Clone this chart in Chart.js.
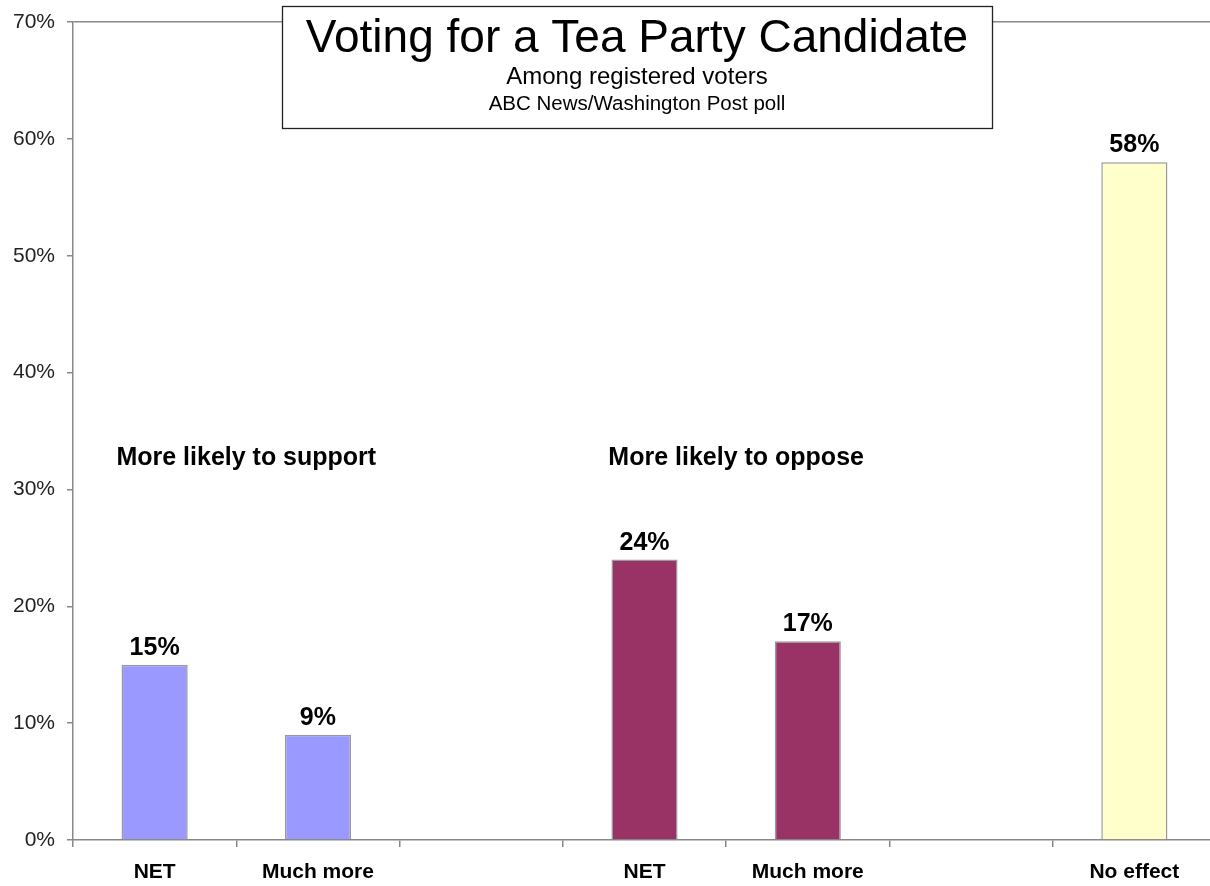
<!DOCTYPE html>
<html>
<head>
<meta charset="utf-8">
<script src="https://cdn.jsdelivr.net/npm/chart.js@4"></script>
<style>
html,body{margin:0;padding:0;background:#fff;overflow:hidden;}
#wrap{width:1222px;height:886px;}
</style>
</head>
<body>
<div id="wrap"><canvas id="c" width="1222" height="886"></canvas></div>
<script>
const categories = ["NET", "Much more", "", "NET", "Much more", "", "No effect"];
const values = [15, 9, null, 24, 17, null, 58];
const barColors = ["#9999FF", "#9999FF", "#9999FF", "#993366", "#993366", "#FFFFCC", "#FFFFCC"];
const yTicks = [0, 10, 20, 30, 40, 50, 60, 70];
const groupLabels = ["More likely to support", "More likely to oppose"];
const groupAnchors = [0.5, 3.5]; // between categories
const groupLevel = 32.7;
const titleText = "Voting for a Tea Party Candidate";
const subtitleLines = ["Among registered voters", "ABC News/Washington Post poll"];

const FONT = "'Liberation Sans', Arial, sans-serif";

const overlay = {
  id: 'overlay',
  afterDatasetsDraw(chart) {
    const ctx = chart.ctx;
    const x = chart.scales.x, y = chart.scales.y;
    ctx.save();
    // value labels
    ctx.fillStyle = '#000';
    ctx.font = 'bold 25px ' + FONT;
    ctx.textAlign = 'center';
    ctx.textBaseline = 'alphabetic';
    values.forEach((v, i) => {
      if (v == null) return;
      ctx.fillText(v + '%', x.getPixelForValue(i), y.getPixelForValue(v) - 10);
    });
    // group labels
    ctx.textBaseline = 'middle';
    groupLabels.forEach((g, i) => {
      const px = x.getPixelForValue(groupAnchors[i]) + 10;
      ctx.fillText(g, px, y.getPixelForValue(groupLevel));
    });
    // title box
    const bx = 282, by = 6, bw = 710, bh = 122;
    ctx.fillStyle = '#fff';
    ctx.fillRect(bx, by, bw, bh);
    ctx.strokeStyle = '#222';
    ctx.lineWidth = 1.3;
    ctx.strokeRect(bx + 0.5, by + 0.5, bw, bh);
    ctx.fillStyle = '#000';
    const cx = bx + bw / 2;
    ctx.font = '46px ' + FONT;
    ctx.fillText(titleText, cx, 39);
    ctx.font = '24px ' + FONT;
    ctx.fillText(subtitleLines[0], cx, 77);
    ctx.font = '20.5px ' + FONT;
    ctx.fillText(subtitleLines[1], cx, 104);
    ctx.restore();
  }
};

new Chart(document.getElementById('c'), {
  type: 'bar',
  data: {
    labels: categories,
    datasets: [{
      data: values,
      backgroundColor: barColors,
      borderColor: '#999999',
      borderWidth: 1.5,
      categoryPercentage: 1,
      barPercentage: 0.405
    }]
  },
  options: {
    responsive: false,
    animation: false,
    devicePixelRatio: 1,
    layout: { padding: { top: 22, right: 6, left: 0, bottom: 0 } },
    plugins: { legend: { display: false }, tooltip: { enabled: false }, title: { display: false } },
    scales: {
      x: {
        offset: true,
        afterFit(s) { s.height = 46; },
        grid: { offset: true, drawOnChartArea: false, tickLength: 7, color: '#888888', lineWidth: 1.5 },
        border: { color: '#888888', width: 1.5 },
        ticks: { color: '#000', font: { family: FONT, size: 21, weight: 'bold' }, padding: 13, maxRotation: 0, autoSkip: false }
      },
      y: {
        min: 0, max: 70,
        afterFit(s) { s.width = 73; },
        afterBuildTicks(s) { s.ticks = yTicks.map(v => ({ value: v })); },
        grid: {
          tickLength: 6,
          color: (c) => (c.tick && c.tick.value === 70) ? '#888888' : 'rgba(0,0,0,0)',
          tickColor: '#888888',
          lineWidth: 1.5
        },
        border: { color: '#888888', width: 1.5 },
        ticks: { color: '#222', font: { family: FONT, size: 21, lineHeight: 0.8 }, padding: 12, callback: v => v + '%' }
      }
    }
  },
  plugins: [overlay]
});
</script>
</body>
</html>
